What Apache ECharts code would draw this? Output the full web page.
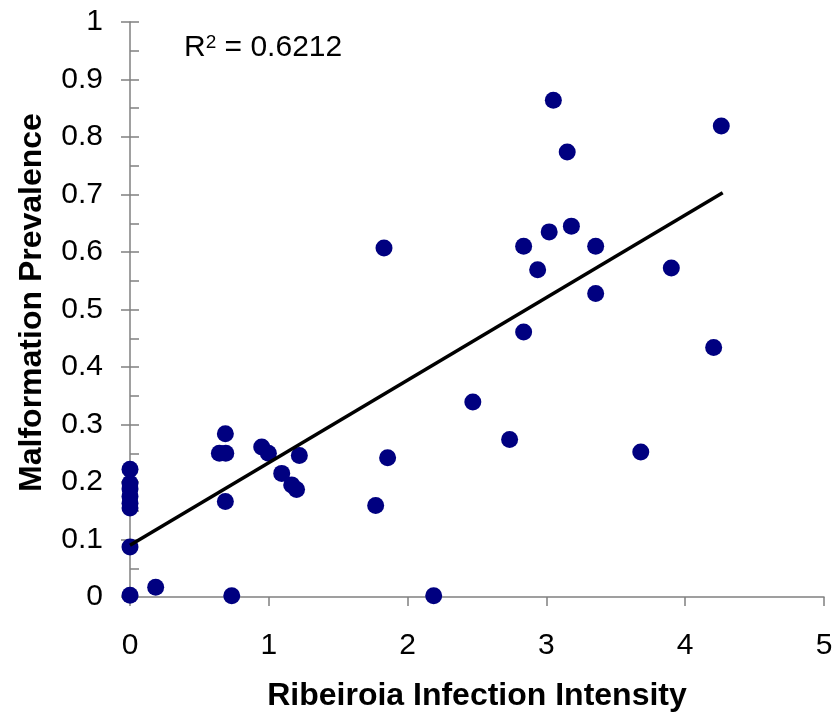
<!DOCTYPE html>
<html>
<head>
<meta charset="utf-8">
<script src="https://cdn.jsdelivr.net/npm/echarts@6/dist/echarts.min.js"></script>
<style>
html,body{margin:0;padding:0;background:#fff;}
#chart{width:836px;height:717px;}
</style>
</head>
<body>
<div id="chart"></div>
<script>
// Ribeiroia infection intensity (x) vs malformation prevalence (y)
const intensity = [0, 0, 0, 0, 0, 0, 0, 0,
  0.185, 0.733, 0.687, 0.644, 0.69, 0.687, 0.949, 0.997, 1.093, 1.22, 1.165, 1.20,
  1.856, 1.77, 2.188, 1.83, 2.47, 2.735, 3.05, 4.26, 3.15, 3.18, 3.02, 2.836,
  3.355, 2.937, 3.90, 3.355, 2.836, 4.205, 3.68];
const prevalence = [0.222, 0.198, 0.188, 0.175, 0.163, 0.155, 0.087, 0.003,
  0.017, 0.002, 0.284, 0.25, 0.25, 0.166, 0.261, 0.25, 0.215, 0.246, 0.195, 0.187,
  0.242, 0.159, 0.002, 0.607, 0.339, 0.274, 0.864, 0.819, 0.774, 0.645, 0.635, 0.61,
  0.61, 0.569, 0.572, 0.528, 0.461, 0.434, 0.252];
const trendX = [0, 4.27];
const trendY = [0.090, 0.703];
const rSquared = '0.6212';
const xTitle = 'Ribeiroia Infection Intensity';
const yTitle = 'Malformation Prevalence';

const points = intensity.map((x, i) => [x, prevalence[i]]);
const trend = trendX.map((x, i) => [x, trendY[i]]);

const axisColor = '#808080';
const font = 'Liberation Sans, Arial, sans-serif';

const chart = echarts.init(document.getElementById('chart'));
chart.setOption({
  animation: false,
  backgroundColor: '#fff',
  grid: {left: 130, right: 12, top: 22, bottom: 120, containLabel: false},
  xAxis: {
    type: 'value', min: 0, max: 5, interval: 1,
    name: xTitle, nameLocation: 'middle', nameGap: 83,
    nameTextStyle: {fontFamily: font, fontSize: 32, fontWeight: 'bold', color: '#000'},
    axisLine: {show: true, onZero: false, lineStyle: {color: axisColor, width: 1.5}},
    axisTick: {show: true, inside: false, length: 9, lineStyle: {color: axisColor, width: 1.5}},
    axisLabel: {fontFamily: font, fontSize: 30, color: '#000', margin: 34},
    splitLine: {show: false}
  },
  yAxis: [{
    type: 'value', min: 0, max: 1, interval: 0.1,
    name: yTitle, nameLocation: 'middle', nameGap: 82, nameRotate: 90,
    nameTextStyle: {fontFamily: font, fontSize: 32, fontWeight: 'bold', color: '#000', padding: [0, 0, 0, 14]},
    axisLine: {show: true, onZero: false, lineStyle: {color: axisColor, width: 1.5}},
    axisTick: {show: true, inside: false, length: 9, lineStyle: {color: axisColor, width: 1.5}},
    axisLabel: {fontFamily: font, fontSize: 30, color: '#000', margin: 27},
    splitLine: {show: false}
  }, {
    type: 'value', min: 0, max: 1, interval: 0.1, position: 'left',
    axisLine: {show: false},
    axisTick: {show: true, inside: true, length: 9, lineStyle: {color: axisColor, width: 1.5}},
    minorTick: {show: true, splitNumber: 2, length: 9, lineStyle: {color: axisColor, width: 1.5}},
    axisLabel: {show: false},
    splitLine: {show: false}
  }],
  series: [{
    type: 'scatter', data: points, symbol: 'circle', symbolSize: 17,
    itemStyle: {color: '#000080', opacity: 1}, z: 3
  }, {
    type: 'line', data: trend, showSymbol: false, symbol: 'none',
    lineStyle: {color: '#000', width: 3.5}, z: 4
  }],
  graphic: [{
    type: 'text', left: 184, top: 33,
    style: {
      text: '{a|R}{b|2}{a| = ' + rSquared + '}',
      rich: {
        a: {fontFamily: font, fontSize: 30, fill: '#000'},
        b: {fontFamily: font, fontSize: 19, fill: '#000', verticalAlign: 'top'}
      }
    }
  }]
});
</script>
</body>
</html>
